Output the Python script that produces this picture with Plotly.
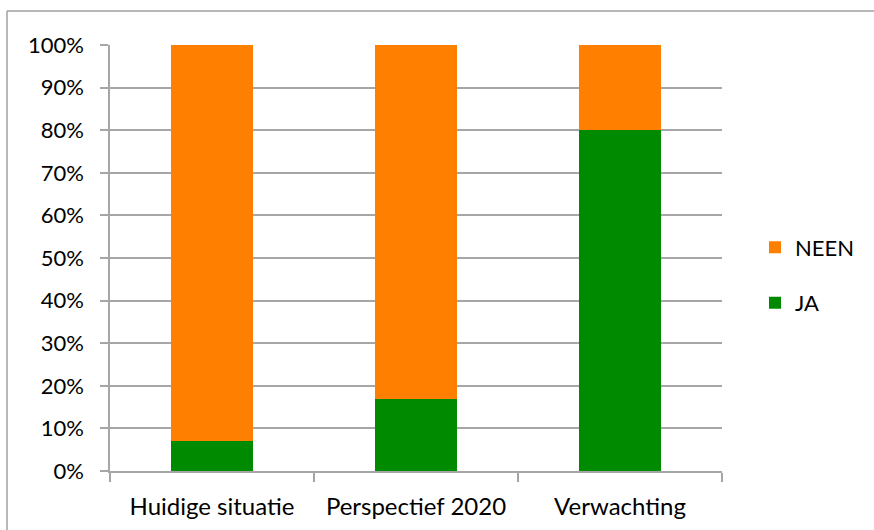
import plotly.graph_objects as go

categories = ["Huidige situatie", "Perspectief 2020", "Verwachting"]
ja_values = [7, 17, 80]
neen_values = [100 - v for v in ja_values]
y_ticks = list(range(0, 101, 10))
y_tick_labels = [f"{v}%" for v in y_ticks]

ORANGE = "#FF7F00"
GREEN = "#008A00"
GRID = "#A6A6A6"
FONT = "Lato"

W, H = 874, 530
L, R, T, B = 110, 152, 45, 59
pw, ph = W - L - R, H - T - B

fig = go.Figure()
fig.add_trace(go.Bar(x=categories, y=ja_values, name="JA", marker_color=GREEN,
                     marker_line_width=0, width=0.4, legendgroup="ja", legendrank=2))
fig.add_trace(go.Bar(x=categories, y=neen_values, name="NEEN", marker_color=ORANGE,
                     marker_line_width=0, width=0.4, legendgroup="neen", legendrank=1))

# outer frame (left and top edges only)
fx0 = (7 - L) / pw
fy1 = 1 + (T - 11) / ph
fig.add_shape(type="line", xref="paper", yref="paper", x0=fx0, x1=fx0, y0=-0.5, y1=fy1,
              line=dict(color="#A0A0A0", width=1.5))
fig.add_shape(type="line", xref="paper", yref="paper", x0=fx0, x1=1.5, y0=fy1, y1=fy1,
              line=dict(color="#A0A0A0", width=1.5))

fig.update_layout(
    width=W, height=H,
    margin=dict(l=L, r=R, t=T, b=B, autoexpand=False),
    barmode="stack",
    plot_bgcolor="white", paper_bgcolor="white",
    font=dict(family=FONT, size=22, color="#000000"),
    showlegend=True,
    legend=dict(traceorder="grouped", tracegroupgap=24,
                x=(755 - L) / pw, xanchor="left", y=0.459, yanchor="middle",
                font=dict(family=FONT, size=22), itemwidth=30, bgcolor="rgba(0,0,0,0)"),
    bargap=0.6,
)
fig.update_xaxes(
    showline=True, linecolor=GRID, linewidth=1.5, automargin=False,
    ticks="outside", tickson="boundaries", ticklen=9, tickcolor=GRID, tickwidth=1.5,
    showgrid=False, ticklabelstandoff=13, tickfont=dict(family=FONT, size=24),
)
fig.update_yaxes(
    range=[0, 100], tickvals=y_ticks, ticktext=y_tick_labels,
    showline=True, linecolor=GRID, linewidth=1.5, automargin=False,
    ticks="outside", ticklen=8, tickcolor=GRID, tickwidth=1.5,
    showgrid=True, gridcolor=GRID, gridwidth=1.5, zeroline=False,
    ticklabelstandoff=12, tickfont=dict(family=FONT, size=22),
)

fig.write_html("out.html")
